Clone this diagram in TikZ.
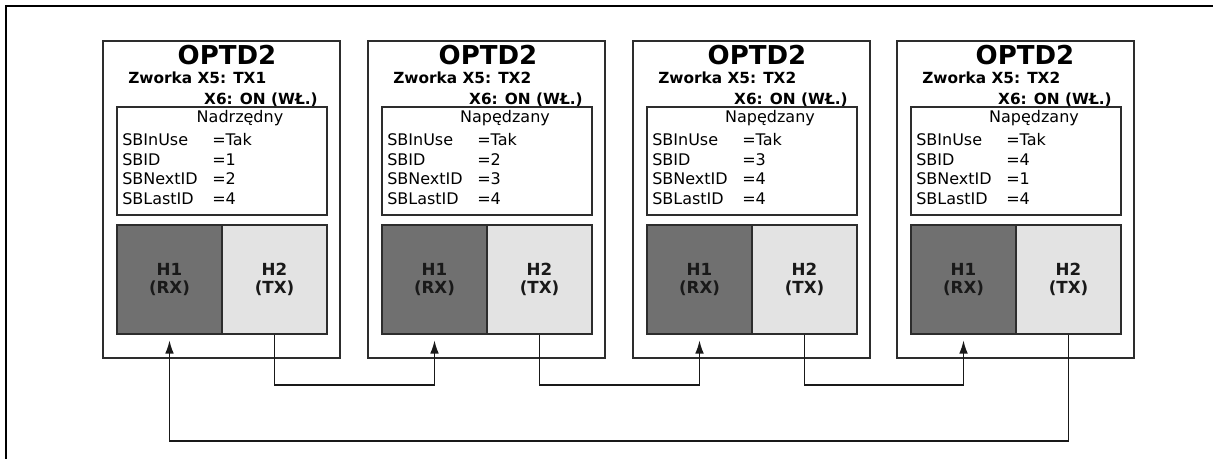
\documentclass[tikz,border=0pt]{standalone}
\usepackage{fontspec}
\setmainfont{DejaVu Sans}
\usepackage{tikz}
\usetikzlibrary{arrows.meta}
\definecolor{rxgray}{RGB}{112,112,112}
\definecolor{txgray}{RGB}{227,227,227}
\definecolor{edgegray}{RGB}{45,45,45}

\tikzset{
  optbox/.style={draw=edgegray, line width=1.3pt, minimum width=177.75pt, minimum height=237.75pt, inner sep=0pt},
  infobox/.style={draw=edgegray, line width=1.3pt, minimum width=157.5pt, minimum height=81pt, inner sep=0pt},
  rxport/.style={draw=edgegray, line width=1.3pt, fill=rxgray, minimum width=78.75pt, minimum height=81.75pt, align=center, font=\fontsize{12.5}{13}\selectfont\bfseries, text=black!90},
  txport/.style={rxport, fill=txgray},
  title/.style={anchor=base, inner sep=0pt, font=\fontsize{19.5}{22}\selectfont\bfseries},
  jumper/.style={inner sep=0pt, font=\fontsize{11.5}{13}\selectfont\bfseries},
  param/.style={anchor=base west, inner sep=0pt, font=\fontsize{12}{14}\selectfont},
  link/.style={draw=black!90, line width=1.3pt, -{Latex[length=10pt, width=6.5pt]}, shorten >=4pt},
}

\begin{document}
\begin{tikzpicture}[x=0.75pt, y=-0.75pt]
  \useasboundingbox (0,0) rectangle (1213,459);

  % Frame
  \draw[line width=1.5pt] (6,459) -- (6,6) -- (1213,6);

  % OPTD2 board 1 (master)
  \node[optbox] (opt1) at (221.5,199.5) {};
  \node[title] (name1) at (227,65) {OPTD2};
  \node[jumper, anchor=base west] (xa1) at (128,84) {Zworka X5: TX1};
  \node[jumper, anchor=base east] (xb1) at (318,105) {X6: ON (WŁ.)};
  \node[infobox] (info1) at (222,161) {};
  \node[param, anchor=base] (role1) at (240,123) {Nadrzędny};
  \node[param] at (122,146) {SBInUse};   \node[param] at (212,146) {=Tak};
  \node[param] at (122,165.5) {SBID};    \node[param] at (212,165.5) {=1};
  \node[param] at (122,185) {SBNextID};  \node[param] at (212,185) {=2};
  \node[param] at (122,204.5) {SBLastID};\node[param] at (212,204.5) {=4};
  \node[rxport] (rx1) at (169.5,279.5) {H1\\(RX)};
  \node[txport] (tx1) at (274.5,279.5) {H2\\(TX)};

  % OPTD2 board 2
  \node[optbox] (opt2) at (486.5,199.5) {};
  \node[title] (name2) at (488,65) {OPTD2};
  \node[jumper, anchor=base west] (xa2) at (393,84) {Zworka X5: TX2};
  \node[jumper, anchor=base east] (xb2) at (583,105) {X6: ON (WŁ.)};
  \node[infobox] (info2) at (487,161) {};
  \node[param, anchor=base] (role2) at (505,123) {Napędzany};
  \node[param] at (387,146) {SBInUse};   \node[param] at (477,146) {=Tak};
  \node[param] at (387,165.5) {SBID};    \node[param] at (477,165.5) {=2};
  \node[param] at (387,185) {SBNextID};  \node[param] at (477,185) {=3};
  \node[param] at (387,204.5) {SBLastID};\node[param] at (477,204.5) {=4};
  \node[rxport] (rx2) at (434.5,279.5) {H1\\(RX)};
  \node[txport] (tx2) at (539.5,279.5) {H2\\(TX)};

  % OPTD2 board 3
  \node[optbox] (opt3) at (751.5,199.5) {};
  \node[title] (name3) at (757,65) {OPTD2};
  \node[jumper, anchor=base west] (xa3) at (658,84) {Zworka X5: TX2};
  \node[jumper, anchor=base east] (xb3) at (848,105) {X6: ON (WŁ.)};
  \node[infobox] (info3) at (752,161) {};
  \node[param, anchor=base] (role3) at (770,123) {Napędzany};
  \node[param] at (652,146) {SBInUse};   \node[param] at (742,146) {=Tak};
  \node[param] at (652,165.5) {SBID};    \node[param] at (742,165.5) {=3};
  \node[param] at (652,185) {SBNextID};  \node[param] at (742,185) {=4};
  \node[param] at (652,204.5) {SBLastID};\node[param] at (742,204.5) {=4};
  \node[rxport] (rx3) at (699.5,279.5) {H1\\(RX)};
  \node[txport] (tx3) at (804.5,279.5) {H2\\(TX)};

  % OPTD2 board 4
  \node[optbox] (opt4) at (1015.5,199.5) {};
  \node[title] (name4) at (1025,65) {OPTD2};
  \node[jumper, anchor=base west] (xa4) at (922,84) {Zworka X5: TX2};
  \node[jumper, anchor=base east] (xb4) at (1112,105) {X6: ON (WŁ.)};
  \node[infobox] (info4) at (1016,161) {};
  \node[param, anchor=base] (role4) at (1034,123) {Napędzany};
  \node[param] at (916,146) {SBInUse};   \node[param] at (1006,146) {=Tak};
  \node[param] at (916,165.5) {SBID};    \node[param] at (1006,165.5) {=4};
  \node[param] at (916,185) {SBNextID};  \node[param] at (1006,185) {=1};
  \node[param] at (916,204.5) {SBLastID};\node[param] at (1006,204.5) {=4};
  \node[rxport] (rx4) at (963.5,279.5) {H1\\(RX)};
  \node[txport] (tx4) at (1068.5,279.5) {H2\\(TX)};

  % TX -> RX links
  \draw[link] (tx1.south) -- ++(0,50) -| (rx2.south);
  \draw[link] (tx2.south) -- ++(0,50) -| (rx3.south);
  \draw[link] (tx3.south) -- ++(0,50) -| (rx4.south);
  \draw[link] (tx4.south) -- ++(0,106) -| (rx1.south);
\end{tikzpicture}
\end{document}
